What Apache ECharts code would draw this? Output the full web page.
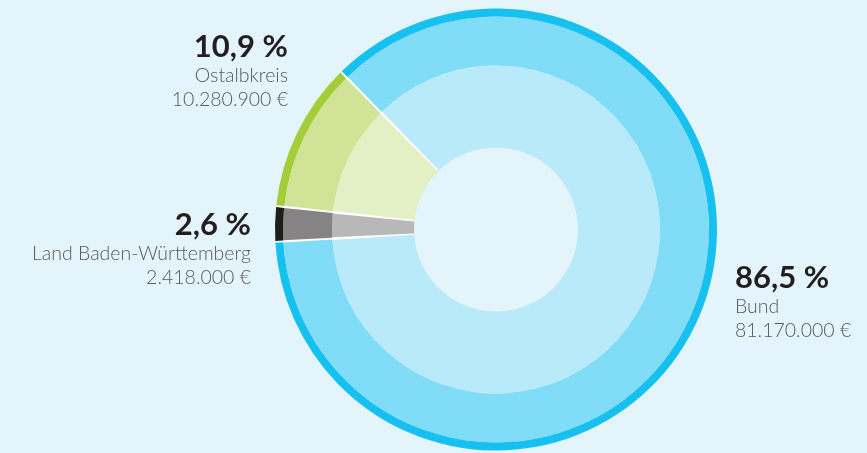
<!DOCTYPE html>
<html lang="de">
<head>
    <meta charset="UTF-8">
    <title>Finanzierung</title>
    <style type="text/css">
        html, body {
            margin: 0;
            padding: 0;
            background-color: #e4f4fb;
        }
        #chart {
            width: 867px;
            height: 453px;
        }
    </style>
</head>
<body>
<div id="chart"></div>
<script src="https://cdn.jsdelivr.net/npm/echarts@6/dist/echarts.min.js"></script>
<script type="text/javascript">
    // data, clockwise from the upper left
    var names = ['Bund', 'Land Baden-Württemberg', 'Ostalbkreis'];
    var values = [81170000, 2418000, 10280900];
    var percents = ['86,5 %', '2,6 %', '10,9 %'];
    var amounts = ['81.170.000 €', '2.418.000 €', '10.280.900 €'];

    var outerColors = ['#16c1f0', '#1d1d1b', '#a5cd39'];
    var midColors = ['#80dcf7', '#858384', '#d0e396'];
    var innerColors = ['#b9eaf9', '#b8b8b8', '#e3efc4'];

    // label anchor: x, y, align
    var labelPos = [
        [735, 261, 'left'],
        [251, 208, 'right'],
        [288, 30, 'right']
    ];

    var center = [496, 229.5];
    var startAngle = 134.5;

    function ringData(colors) {
        return values.map(function (v, i) {
            return {name: names[i], value: v, itemStyle: {color: colors[i]}};
        });
    }

    function ring(radius, colors, pad, withLabel) {
        var s = {
            type: 'pie',
            center: center,
            radius: radius,
            startAngle: startAngle,
            padAngle: pad,
            silent: true,
            avoidLabelOverlap: false,
            itemStyle: {borderWidth: 0},
            label: {show: false},
            labelLine: {show: false},
            data: ringData(colors)
        };
        if (withLabel) {
            s.label = {
                show: true,
                position: 'outside',
                formatter: function (p) {
                    var i = p.dataIndex;
                    return '{p|' + percents[i] + '}\n{n|' + names[i] + '}\n{n|' + amounts[i] + '}';
                },
                rich: {
                    p: {
                        fontFamily: 'Lato',
                        fontWeight: 'bold',
                        fontSize: 31,
                        lineHeight: 34,
                        color: '#231f20'
                    },
                    n: {
                        fontFamily: 'Lato',
                        fontWeight: 300,
                        fontSize: 19.5,
                        lineHeight: 24,
                        color: '#58595b'
                    }
                }
            };
            s.labelLayout = function (params) {
                var lp = labelPos[params.dataIndex];
                return {x: lp[0], y: lp[1], align: lp[2], verticalAlign: 'top'};
            };
        }
        return s;
    }

    var chart = echarts.init(document.getElementById('chart'));
    chart.setOption({
        backgroundColor: '#e4f4fb',
        animation: false,
        series: [
            // white seams show through the gaps between slices
            {
                type: 'pie',
                center: center,
                radius: [83.5, 219.5],
                silent: true,
                label: {show: false},
                labelLine: {show: false},
                itemStyle: {color: '#ffffff'},
                data: [1]
            },
            ring([82, 164], innerColors, 0.9, false),
            ring([164, 213], midColors, 0.6, false),
            ring([213, 221], outerColors, 0.5, true)
        ]
    });
</script>
</body>
</html>
